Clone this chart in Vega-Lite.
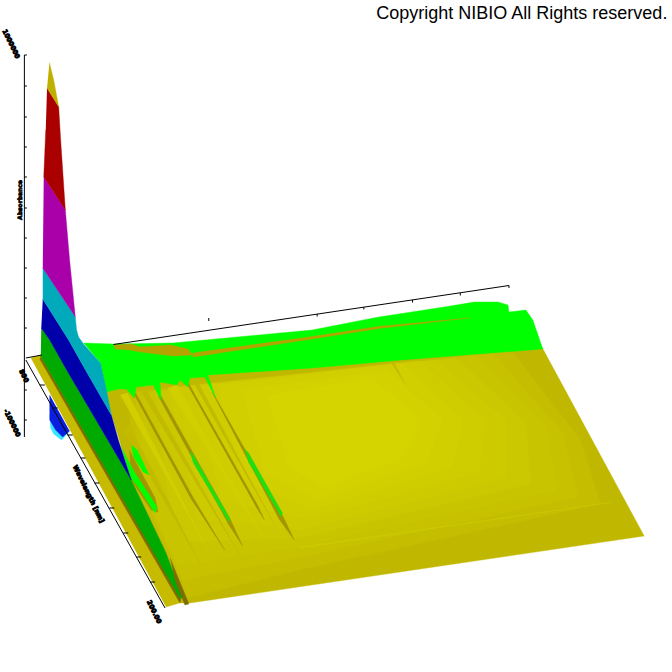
{"$schema":"https://vega.github.io/schema/vega-lite/v6.json","width":672,"height":672,"padding":0,"autosize":{"type":"fit","contains":"padding"},"background":"white","config":{"view":{"stroke":null}},
"datasets":{
"poly":[
{"p":"u1","c":"cyan","i":0,"x":46,"y":415},{"p":"u1","c":"cyan","i":1,"x":47,"y":428},{"p":"u1","c":"cyan","i":2,"x":50,"y":434},{"p":"u1","c":"cyan","i":3,"x":58,"y":440},{"p":"u1","c":"cyan","i":4,"x":65,"y":432},
{"p":"u2","c":"ublue","i":0,"x":46,"y":395},{"p":"u2","c":"ublue","i":1,"x":46,"y":420},{"p":"u2","c":"ublue","i":2,"x":52,"y":430},{"p":"u2","c":"ublue","i":3,"x":59,"y":437},{"p":"u2","c":"ublue","i":4,"x":66,"y":431},
{"p":"l1","c":"plane","i":0,"x":27,"y":358},{"p":"l1","c":"plane","i":1,"x":37,"y":355},{"p":"l1","c":"plane","i":2,"x":180,"y":602},{"p":"l1","c":"plane","i":3,"x":163,"y":607},
{"p":"m0","c":"y0","i":0,"x":100,"y":388},{"p":"m0","c":"y0","i":1,"x":310,"y":362},{"p":"m0","c":"y0","i":2,"x":400,"y":354},{"p":"m0","c":"y0","i":3,"x":540,"y":345},{"p":"m0","c":"y0","i":4,"x":644,"y":536},{"p":"m0","c":"y0","i":5,"x":187,"y":603},{"p":"m0","c":"y0","i":6,"x":178,"y":603},{"p":"m0","c":"y0","i":7,"x":128,"y":480},
{"p":"m1","c":"y1","i":0,"x":125,"y":392},{"p":"m1","c":"y1","i":1,"x":510,"y":350},{"p":"m1","c":"y1","i":2,"x":580,"y":440},{"p":"m1","c":"y1","i":3,"x":600,"y":504},{"p":"m1","c":"y1","i":4,"x":297,"y":570},{"p":"m1","c":"y1","i":5,"x":185,"y":598},{"p":"m1","c":"y1","i":6,"x":130,"y":480},
{"p":"m1b","c":"y1b","i":0,"x":132,"y":393},{"p":"m1b","c":"y1b","i":1,"x":492,"y":353},{"p":"m1b","c":"y1b","i":2,"x":562,"y":432},{"p":"m1b","c":"y1b","i":3,"x":578,"y":497},{"p":"m1b","c":"y1b","i":4,"x":297,"y":558},{"p":"m1b","c":"y1b","i":5,"x":180,"y":581},{"p":"m1b","c":"y1b","i":6,"x":133,"y":480},
{"p":"m2","c":"y2","i":0,"x":140,"y":393},{"p":"m2","c":"y2","i":1,"x":475,"y":356},{"p":"m2","c":"y2","i":2,"x":545,"y":425},{"p":"m2","c":"y2","i":3,"x":556,"y":490},{"p":"m2","c":"y2","i":4,"x":297,"y":547},{"p":"m2","c":"y2","i":5,"x":175,"y":565},{"p":"m2","c":"y2","i":6,"x":135,"y":480},
{"p":"m2b","c":"y2b","i":0,"x":152,"y":391},{"p":"m2b","c":"y2b","i":1,"x":455,"y":358},{"p":"m2b","c":"y2b","i":2,"x":525,"y":422},{"p":"m2b","c":"y2b","i":3,"x":530,"y":484},{"p":"m2b","c":"y2b","i":4,"x":298,"y":538},{"p":"m2b","c":"y2b","i":5,"x":185,"y":542},{"p":"m2b","c":"y2b","i":6,"x":165,"y":500},
{"p":"m3","c":"y3","i":0,"x":165,"y":388},{"p":"m3","c":"y3","i":1,"x":435,"y":360},{"p":"m3","c":"y3","i":2,"x":505,"y":420},{"p":"m3","c":"y3","i":3,"x":505,"y":478},{"p":"m3","c":"y3","i":4,"x":300,"y":530},{"p":"m3","c":"y3","i":5,"x":195,"y":520},
{"p":"m3b","c":"y3b","i":0,"x":190,"y":386},{"p":"m3b","c":"y3b","i":1,"x":418,"y":361},{"p":"m3b","c":"y3b","i":2,"x":484,"y":420},{"p":"m3b","c":"y3b","i":3,"x":478,"y":473},{"p":"m3b","c":"y3b","i":4,"x":305,"y":520},{"p":"m3b","c":"y3b","i":5,"x":218,"y":500},
{"p":"m4","c":"y4","i":0,"x":215,"y":385},{"p":"m4","c":"y4","i":1,"x":400,"y":363},{"p":"m4","c":"y4","i":2,"x":462,"y":420},{"p":"m4","c":"y4","i":3,"x":450,"y":468},{"p":"m4","c":"y4","i":4,"x":310,"y":510},{"p":"m4","c":"y4","i":5,"x":240,"y":480},
{"p":"m4b","c":"y4b","i":0,"x":240,"y":390},{"p":"m4b","c":"y4b","i":1,"x":385,"y":370},{"p":"m4b","c":"y4b","i":2,"x":441,"y":420},{"p":"m4b","c":"y4b","i":3,"x":425,"y":463},{"p":"m4b","c":"y4b","i":4,"x":316,"y":499},{"p":"m4b","c":"y4b","i":5,"x":262,"y":472},
{"p":"m5","c":"y5","i":0,"x":265,"y":395},{"p":"m5","c":"y5","i":1,"x":370,"y":378},{"p":"m5","c":"y5","i":2,"x":420,"y":420},{"p":"m5","c":"y5","i":3,"x":400,"y":458},{"p":"m5","c":"y5","i":4,"x":322,"y":488},{"p":"m5","c":"y5","i":5,"x":285,"y":465},
{"p":"b1","c":"y3","i":0,"x":297,"y":547},{"p":"b1","c":"y3","i":1,"x":610,"y":502.5},{"p":"b1","c":"y3","i":2,"x":297,"y":548.5},
{"p":"t1","c":"light","i":0,"x":117,"y":395},{"p":"t1","c":"light","i":1,"x":124,"y":393},{"p":"t1","c":"light","i":2,"x":205,"y":550},
{"p":"t2","c":"mid","i":0,"x":138,"y":392},{"p":"t2","c":"mid","i":1,"x":144,"y":391},{"p":"t2","c":"mid","i":2,"x":240,"y":560},
{"p":"t3","c":"light","i":0,"x":165,"y":388},{"p":"t3","c":"light","i":1,"x":174,"y":385},{"p":"t3","c":"light","i":2,"x":262,"y":540},
{"p":"t4","c":"mid","i":0,"x":192,"y":385},{"p":"t4","c":"mid","i":1,"x":196,"y":384},{"p":"t4","c":"mid","i":2,"x":275,"y":530},
{"p":"t5","c":"mid","i":0,"x":120,"y":430},{"p":"t5","c":"mid","i":1,"x":126,"y":425},{"p":"t5","c":"mid","i":2,"x":198,"y":565},
{"p":"t6","c":"mid","i":0,"x":389,"y":362},{"p":"t6","c":"mid","i":1,"x":392,"y":362},{"p":"t6","c":"mid","i":2,"x":404,"y":385},
{"p":"s1","c":"dark","i":0,"x":130,"y":393},{"p":"s1","c":"dark","i":1,"x":132.5,"y":393},{"p":"s1","c":"dark","i":2,"x":190,"y":497},{"p":"s1","c":"dark","i":3,"x":222,"y":550},{"p":"s1","c":"dark","i":4,"x":187,"y":497},
{"p":"s2","c":"dark","i":0,"x":155,"y":396},{"p":"s2","c":"dark","i":1,"x":157.5,"y":395},{"p":"s2","c":"dark","i":2,"x":228,"y":520},{"p":"s2","c":"dark","i":3,"x":240,"y":546},{"p":"s2","c":"dark","i":4,"x":225,"y":523},
{"p":"s3","c":"dark","i":0,"x":184,"y":384},{"p":"s3","c":"dark","i":1,"x":186,"y":384},{"p":"s3","c":"dark","i":2,"x":255,"y":505},{"p":"s3","c":"dark","i":3,"x":262,"y":520},{"p":"s3","c":"dark","i":4,"x":253,"y":506},
{"p":"s4","c":"dark","i":0,"x":209,"y":392},{"p":"s4","c":"dark","i":1,"x":212,"y":396},{"p":"s4","c":"dark","i":2,"x":281,"y":517},{"p":"s4","c":"dark","i":3,"x":292,"y":540},{"p":"s4","c":"dark","i":4,"x":276,"y":518},
{"p":"s5","c":"dark","i":0,"x":126,"y":450},{"p":"s5","c":"dark","i":1,"x":152,"y":498},{"p":"s5","c":"dark","i":2,"x":155,"y":512},{"p":"s5","c":"dark","i":3,"x":148,"y":510},{"p":"s5","c":"dark","i":4,"x":128,"y":480},
{"p":"g1","c":"lime2","i":0,"x":187,"y":451},{"p":"g1","c":"lime2","i":1,"x":191,"y":456},{"p":"g1","c":"lime2","i":2,"x":227,"y":518},{"p":"g1","c":"lime2","i":3,"x":226,"y":522},{"p":"g1","c":"lime2","i":4,"x":190,"y":462},
{"p":"g2","c":"lime2","i":0,"x":242,"y":449},{"p":"g2","c":"lime2","i":1,"x":246,"y":453},{"p":"g2","c":"lime2","i":2,"x":280,"y":513},{"p":"g2","c":"lime2","i":3,"x":279,"y":517},{"p":"g2","c":"lime2","i":4,"x":246,"y":462},
{"p":"g3","c":"lime","i":0,"x":128,"y":445},{"p":"g3","c":"lime","i":1,"x":134,"y":450},{"p":"g3","c":"lime","i":2,"x":146,"y":475},{"p":"g3","c":"lime","i":3,"x":140,"y":472},{"p":"g3","c":"lime","i":4,"x":130,"y":456},
{"p":"g4","c":"lime","i":0,"x":118,"y":447},{"p":"g4","c":"lime","i":1,"x":130,"y":470},{"p":"g4","c":"lime","i":2,"x":154,"y":507},{"p":"g4","c":"lime","i":3,"x":152,"y":513},{"p":"g4","c":"lime","i":4,"x":135,"y":487},{"p":"g4","c":"lime","i":5,"x":127,"y":477},
{"p":"k1","c":"lime","i":0,"x":80,"y":343},{"p":"k1","c":"lime","i":1,"x":110,"y":344},{"p":"k1","c":"lime","i":2,"x":170,"y":343},{"p":"k1","c":"lime","i":3,"x":310,"y":330},{"p":"k1","c":"lime","i":4,"x":377,"y":317},{"p":"k1","c":"lime","i":5,"x":443,"y":307},{"p":"k1","c":"lime","i":6,"x":473,"y":302},{"p":"k1","c":"lime","i":7,"x":497,"y":302},{"p":"k1","c":"lime","i":8,"x":507,"y":305},{"p":"k1","c":"lime","i":9,"x":508,"y":312},{"p":"k1","c":"lime","i":10,"x":525,"y":310},{"p":"k1","c":"lime","i":11,"x":532,"y":320},{"p":"k1","c":"lime","i":12,"x":542,"y":349},{"p":"k1","c":"lime","i":13,"x":400,"y":360},{"p":"k1","c":"lime","i":14,"x":310,"y":368},{"p":"k1","c":"lime","i":15,"x":205,"y":375},{"p":"k1","c":"lime","i":16,"x":213,"y":398},{"p":"k1","c":"lime","i":17,"x":202,"y":377},{"p":"k1","c":"lime","i":18,"x":187,"y":378},{"p":"k1","c":"lime","i":19,"x":185,"y":387},{"p":"k1","c":"lime","i":20,"x":177,"y":380},{"p":"k1","c":"lime","i":21,"x":174,"y":385},{"p":"k1","c":"lime","i":22,"x":157,"y":382},{"p":"k1","c":"lime","i":23,"x":158,"y":400},{"p":"k1","c":"lime","i":24,"x":150,"y":385},{"p":"k1","c":"lime","i":25,"x":133,"y":387},{"p":"k1","c":"lime","i":26,"x":131,"y":398},{"p":"k1","c":"lime","i":27,"x":123,"y":389},{"p":"k1","c":"lime","i":28,"x":115,"y":389},{"p":"k1","c":"lime","i":29,"x":103,"y":392},{"p":"k1","c":"lime","i":30,"x":97,"y":363},
{"p":"n1","c":"notch","i":0,"x":110,"y":345},{"p":"n1","c":"notch","i":1,"x":128,"y":344},{"p":"n1","c":"notch","i":2,"x":137,"y":347},{"p":"n1","c":"notch","i":3,"x":167,"y":345},{"p":"n1","c":"notch","i":4,"x":185,"y":349},{"p":"n1","c":"notch","i":5,"x":190,"y":355},{"p":"n1","c":"notch","i":6,"x":170,"y":356},{"p":"n1","c":"notch","i":7,"x":137,"y":352},{"p":"n1","c":"notch","i":8,"x":127,"y":350},{"p":"n1","c":"notch","i":9,"x":112,"y":349},
{"p":"n2","c":"notch","i":0,"x":190,"y":353},{"p":"n2","c":"notch","i":1,"x":300,"y":338},{"p":"n2","c":"notch","i":2,"x":377,"y":326.5},{"p":"n2","c":"notch","i":3,"x":467,"y":318},{"p":"n2","c":"notch","i":4,"x":377,"y":328.5},{"p":"n2","c":"notch","i":5,"x":300,"y":340.5},{"p":"n2","c":"notch","i":6,"x":190,"y":357},
{"p":"q1","c":"brown","i":0,"x":37,"y":356},{"p":"q1","c":"brown","i":1,"x":178,"y":599},{"p":"q1","c":"brown","i":2,"x":177,"y":603},{"p":"q1","c":"brown","i":3,"x":36,"y":359},
{"p":"q2","c":"green","i":0,"x":37.5,"y":328},{"p":"q2","c":"green","i":1,"x":46,"y":340},{"p":"q2","c":"green","i":2,"x":63,"y":370},{"p":"q2","c":"green","i":3,"x":128,"y":480},{"p":"q2","c":"green","i":4,"x":163,"y":553},{"p":"q2","c":"green","i":5,"x":180,"y":598},{"p":"q2","c":"green","i":6,"x":177,"y":598},{"p":"q2","c":"green","i":7,"x":37,"y":356},
{"p":"q3","c":"brown","i":0,"x":167,"y":558},{"p":"q3","c":"brown","i":1,"x":186,"y":604},{"p":"q3","c":"brown","i":2,"x":182,"y":605},{"p":"q3","c":"brown","i":3,"x":172,"y":580},
{"p":"q4","c":"blue","i":0,"x":39,"y":299},{"p":"q4","c":"blue","i":1,"x":65,"y":340},{"p":"q4","c":"blue","i":2,"x":82,"y":370},{"p":"q4","c":"blue","i":3,"x":108,"y":415},{"p":"q4","c":"blue","i":4,"x":115,"y":440},{"p":"q4","c":"blue","i":5,"x":128,"y":480},{"p":"q4","c":"blue","i":6,"x":63,"y":370},{"p":"q4","c":"blue","i":7,"x":46,"y":340},{"p":"q4","c":"blue","i":8,"x":37.5,"y":328},
{"p":"q5","c":"teal","i":0,"x":39,"y":268},{"p":"q5","c":"teal","i":1,"x":71.7,"y":316.7},{"p":"q5","c":"teal","i":2,"x":73,"y":330},{"p":"q5","c":"teal","i":3,"x":75,"y":337},{"p":"q5","c":"teal","i":4,"x":80,"y":344},{"p":"q5","c":"teal","i":5,"x":97,"y":363},{"p":"q5","c":"teal","i":6,"x":103,"y":390},{"p":"q5","c":"teal","i":7,"x":108,"y":415},{"p":"q5","c":"teal","i":8,"x":82,"y":370},{"p":"q5","c":"teal","i":9,"x":65,"y":340},{"p":"q5","c":"teal","i":10,"x":39,"y":299},
{"p":"q6","c":"magenta","i":0,"x":40,"y":176.7},{"p":"q6","c":"magenta","i":1,"x":61.7,"y":210},{"p":"q6","c":"magenta","i":2,"x":66,"y":260},{"p":"q6","c":"magenta","i":3,"x":71.7,"y":316.7},{"p":"q6","c":"magenta","i":4,"x":39,"y":268},
{"p":"q7","c":"red","i":0,"x":43.3,"y":88},{"p":"q7","c":"red","i":1,"x":55,"y":106.7},{"p":"q7","c":"red","i":2,"x":57,"y":140},{"p":"q7","c":"red","i":3,"x":61.7,"y":210},{"p":"q7","c":"red","i":4,"x":40,"y":176.7},{"p":"q7","c":"red","i":5,"x":42,"y":130},
{"p":"q8","c":"tip","i":0,"x":45.7,"y":62.7},{"p":"q8","c":"tip","i":1,"x":50,"y":80},{"p":"q8","c":"tip","i":2,"x":55,"y":106.7},{"p":"q8","c":"tip","i":3,"x":43.3,"y":88}
],
"axes":[
{"a":"v","i":0,"x":20.5,"y":55},{"a":"v","i":1,"x":20.5,"y":437},
{"a":"d","i":0,"x":22,"y":360},{"a":"d","i":1,"x":162,"y":608},
{"a":"o","i":0,"x":22,"y":358},{"a":"o","i":1,"x":38,"y":355},
{"a":"b","i":0,"x":110,"y":344.5},{"a":"b","i":1,"x":508,"y":285.5},
{"a":"t1","i":0,"x":20.5,"y":86},{"a":"t1","i":1,"x":23,"y":86},{"a":"t2","i":0,"x":20.5,"y":117},{"a":"t2","i":1,"x":23,"y":117},{"a":"t3","i":0,"x":20.5,"y":147},{"a":"t3","i":1,"x":23,"y":147},{"a":"t4","i":0,"x":20.5,"y":177},{"a":"t4","i":1,"x":23,"y":177},{"a":"t5","i":0,"x":20.5,"y":208},{"a":"t5","i":1,"x":23,"y":208},{"a":"t6","i":0,"x":20.5,"y":238},{"a":"t6","i":1,"x":23,"y":238},{"a":"t7","i":0,"x":20.5,"y":268},{"a":"t7","i":1,"x":23,"y":268},{"a":"t8","i":0,"x":20.5,"y":298},{"a":"t8","i":1,"x":23,"y":298},{"a":"t9","i":0,"x":20.5,"y":328},{"a":"t9","i":1,"x":23,"y":328},{"a":"t10","i":0,"x":20.5,"y":55},{"a":"t10","i":1,"x":23,"y":55},{"a":"t11","i":0,"x":20.5,"y":390},{"a":"t11","i":1,"x":23,"y":390},{"a":"t12","i":0,"x":20.5,"y":420},{"a":"t12","i":1,"x":23,"y":420},
{"a":"d1","i":0,"x":36,"y":385},{"a":"d1","i":1,"x":41,"y":385},{"a":"d2","i":0,"x":49,"y":408},{"a":"d2","i":1,"x":54,"y":408},{"a":"d3","i":0,"x":64,"y":435},{"a":"d3","i":1,"x":69,"y":435},{"a":"d4","i":0,"x":77,"y":458},{"a":"d4","i":1,"x":82,"y":458},{"a":"d5","i":0,"x":91,"y":483},{"a":"d5","i":1,"x":96,"y":483},{"a":"d6","i":0,"x":106,"y":508},{"a":"d6","i":1,"x":111,"y":508},{"a":"d7","i":0,"x":120,"y":533},{"a":"d7","i":1,"x":125,"y":533},{"a":"d8","i":0,"x":133,"y":557},{"a":"d8","i":1,"x":138,"y":557},{"a":"d9","i":0,"x":147,"y":582},{"a":"d9","i":1,"x":152,"y":582},
{"a":"b1","i":0,"x":206,"y":318},{"a":"b1","i":1,"x":206,"y":321},{"a":"b2","i":0,"x":315,"y":314},{"a":"b2","i":1,"x":315,"y":316.5},{"a":"b3","i":0,"x":362,"y":307},{"a":"b3","i":1,"x":362,"y":309.5},{"a":"b4","i":0,"x":411,"y":300},{"a":"b4","i":1,"x":411,"y":302.5},{"a":"b5","i":0,"x":459,"y":293},{"a":"b5","i":1,"x":459,"y":295.5},{"a":"b6","i":0,"x":508,"y":285.5},{"a":"b6","i":1,"x":508,"y":288}
]},
"layer":[
{"data":{"name":"poly"},"mark":{"type":"line","strokeWidth":0.4,"interpolate":"linear"},
"encoding":{"x":{"field":"x","type":"quantitative","scale":{"domain":[0,672],"nice":false,"zero":false},"axis":null},"y":{"field":"y","type":"quantitative","scale":{"domain":[672,0],"nice":false,"zero":false},"axis":null},"order":{"field":"i","type":"quantitative"},"detail":{"field":"p"},
"fill":{"field":"c","type":"nominal","legend":null,"scale":{"domain":["cyan","ublue","plane","y0","y1","y1b","y2","y2b","y3","y3b","y4","y4b","y5","light","mid","dark","lime2","lime","notch","brown","green","blue","teal","magenta","red","tip"],"range":["#33e8ff","#0a1ee0","#c6bb00","#c0b800","#c4bd00","#c7c100","#c9c400","#cbc700","#cdca00","#cfcc00","#d1cf00","#d3d100","#d5d400","#d3ce00","#c3ba00","#a39400","#22dd11","#00ff00","#b5a300","#7d6c00","#00aa00","#0000aa","#00aabb","#aa00aa","#aa0000","#bfb000"]}},
"stroke":{"field":"c","type":"nominal","legend":null,"scale":{"domain":["cyan","ublue","plane","y0","y1","y1b","y2","y2b","y3","y3b","y4","y4b","y5","light","mid","dark","lime2","lime","notch","brown","green","blue","teal","magenta","red","tip"],"range":["#33e8ff","#0a1ee0","#c6bb00","#c0b800","#c4bd00","#c7c100","#c9c400","#cbc700","#cdca00","#cfcc00","#d1cf00","#d3d100","#d5d400","#d3ce00","#c3ba00","#a39400","#22dd11","#00ff00","#b5a300","#7d6c00","#00aa00","#0000aa","#00aabb","#aa00aa","#aa0000","#bfb000"]}}}},
{"data":{"name":"axes"},"mark":{"type":"line","stroke":"black","strokeWidth":1},
"encoding":{"x":{"field":"x","type":"quantitative"},"y":{"field":"y","type":"quantitative"},"order":{"field":"i","type":"quantitative"},"detail":{"field":"a"}}},
{"data":{"values":[{"t":"Copyright NIBIO All Rights reserved.","x":374.5,"y":19}]},"mark":{"type":"text","align":"left","baseline":"alphabetic","font":"Liberation Sans","fontSize":18,"color":"black"},
"encoding":{"x":{"field":"x","type":"quantitative"},"y":{"field":"y","type":"quantitative"},"text":{"field":"t"}}},
{"data":{"values":[{"t":"1000000","x":7,"y":44},{"t":"-100000","x":8,"y":423},{"t":"200.00","x":151,"y":612},{"t":"800","x":20,"y":376},{"t":"Wavelength [nm]","x":85,"y":494}]},"mark":{"type":"text","align":"center","baseline":"middle","font":"DejaVu Sans","fontWeight":"bold","fontSize":6.5,"angle":64,"color":"black","stroke":"black","strokeWidth":0.9},
"encoding":{"x":{"field":"x","type":"quantitative"},"y":{"field":"y","type":"quantitative"},"text":{"field":"t"}}},
{"data":{"values":[{"t":"Absorbance","x":16,"y":200}]},"mark":{"type":"text","align":"center","baseline":"middle","font":"DejaVu Sans","fontWeight":"bold","fontSize":6,"angle":270,"color":"black","stroke":"black","strokeWidth":0.7},
"encoding":{"x":{"field":"x","type":"quantitative"},"y":{"field":"y","type":"quantitative"},"text":{"field":"t"}}}
]}
